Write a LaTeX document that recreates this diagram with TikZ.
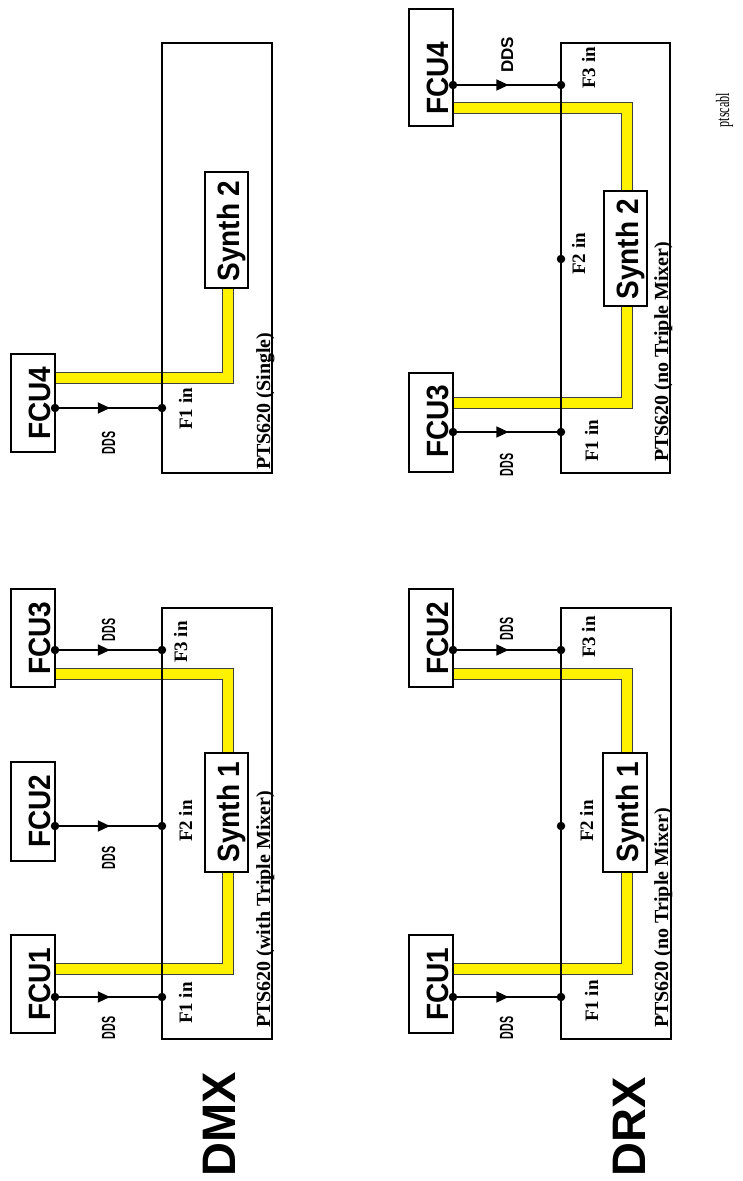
\documentclass[tikz,border=0pt]{standalone}
\usepackage{fontspec}
\usepackage{graphicx}
\setmainfont{Liberation Serif}
\newfontfamily\hvf{Liberation Sans}
\usetikzlibrary{arrows.meta,decorations.markings}
\pgfdeclarelayer{background}
\pgfsetlayers{background,main}
\newcommand\mkbox[6]{\node[#6, minimum width={(#4)-(#2)}, minimum height={(#5)-(#3)}] (#1) at ({((#2)+(#4))/2},{((#3)+(#5))/2}) {};}
\tikzset{
  ptsbox/.style={draw, line width=1.8pt, inner sep=0pt, rectangle},
  fcubox/.style={draw, fill=white, line width=1.5pt, inner sep=0pt, rectangle},
  synbox/.style={draw, fill=white, line width=1.5pt, inner sep=0pt, rectangle},
  jdot/.style={circle, fill=black, inner sep=0pt, minimum size=8.5pt},
  ddsline/.style={line width=1.2pt, postaction={decorate},
    decoration={markings, mark=at position #1 with {\arrow{Triangle[length=12pt,width=11pt]}}}},
  ddsline/.default=0.515,
  ycab/.style={draw=black!75, line width=1pt, double=yellow, double distance=10pt, line join=miter, line cap=butt},
  bigtxt/.style={font=\hvf\bfseries\fontsize{28}{30}\selectfont, rotate=90, anchor=base, inner sep=0pt},
  flab/.style={font=\bfseries\fontsize{19}{20}\selectfont, rotate=90, anchor=base, inner sep=0pt},
  ptslab/.style={font=\bfseries\fontsize{20}{22}\selectfont, rotate=90, anchor=base west, inner sep=0pt},
  ddsc/.style={font=\hvf\bfseries\fontsize{19}{19}\selectfont, rotate=90, anchor=base, inner sep=0pt},
  ddsn/.style={font=\hvf\bfseries\fontsize{17}{18}\selectfont, rotate=90, anchor=base, inner sep=0pt},
  titletxt/.style={font=\hvf\bfseries\fontsize{47}{50}\selectfont, rotate=90, anchor=base, inner sep=0pt},
  notetxt/.style={font=\fontsize{19}{20}\selectfont, rotate=90, anchor=base, inner sep=0pt},
}
\newcommand\tallt[1]{\scalebox{1}[1.1]{#1}}
\newcommand\narrowt[1]{\scalebox{0.56}[1]{#1}}
\begin{document}
\begin{tikzpicture}[x=1pt,y=-1pt]
\useasboundingbox (0,0) rectangle (742,1181);

% ================= Panel A : left top (Single) =================
\mkbox{ptsA}{162}{43}{272}{473}{ptsbox}
\mkbox{fcuA4}{11}{354}{55}{452}{fcubox}
\mkbox{synA2}{205}{172}{248}{288}{synbox}
\node[bigtxt] (tfcuA4) at (50,403) {\tallt{FCU4}};
\node[bigtxt] (tsynA2) at (239,231) {\tallt{Synth 2}};
\node[jdot] (a1s) at (55,408) {};
\node[jdot] (a1e) at (162,408) {};
\draw[ddsline] (a1s) -- (a1e);
\node[ddsc] (ddsA1) at (115,443) {\narrowt{DDS}};
\node[flab] (fA1) at (192,409) {F1 in};
\node[ptslab] (pA) at (270,470) {PTS620 (Single)};
\coordinate (yA) at (228,378);
\begin{pgfonlayer}{background}
\draw[ycab] (yA -| fcuA4.east) -- (yA) -- (yA |- synA2.south);
\end{pgfonlayer}

% ================= Panel B : DMX =================
\mkbox{ptsB}{162}{608}{272}{1039}{ptsbox}
\mkbox{fcuB3}{11}{589}{55}{687}{fcubox}
\mkbox{fcuB2}{11}{762}{55}{861}{fcubox}
\mkbox{fcuB1}{11}{935}{55}{1033}{fcubox}
\mkbox{synB1}{205}{753}{248}{872}{synbox}
\node[bigtxt] (tfcuB3) at (50,638) {\tallt{FCU3}};
\node[bigtxt] (tfcuB2) at (50,811) {\tallt{FCU2}};
\node[bigtxt] (tfcuB1) at (50,984) {\tallt{FCU1}};
\node[bigtxt] (tsynB1) at (239,812) {\tallt{Synth 1}};
\node[jdot] (b3s) at (55,650) {};
\node[jdot] (b3e) at (162,650) {};
\node[jdot] (b2s) at (55,826) {};
\node[jdot] (b2e) at (162,826) {};
\node[jdot] (b1s) at (55,997) {};
\node[jdot] (b1e) at (162,997) {};
\draw[ddsline] (b3s) -- (b3e);
\draw[ddsline] (b2s) -- (b2e);
\draw[ddsline] (b1s) -- (b1e);
\node[ddsc] (ddsB3) at (115,630) {\narrowt{DDS}};
\node[ddsc] (ddsB2) at (115,858) {\narrowt{DDS}};
\node[ddsc] (ddsB1) at (115,1028) {\narrowt{DDS}};
\node[flab] (fB3) at (187,642) {F3 in};
\node[flab] (fB2) at (192,821) {F2 in};
\node[flab] (fB1) at (192,1003) {F1 in};
\node[ptslab] (pB) at (270,1028) {PTS620 (with Triple Mixer)};
\node[titletxt] (dmx) at (235,1124) {DMX};
\coordinate (yB3) at (228,674);
\coordinate (yB1) at (228,969);
\begin{pgfonlayer}{background}
\draw[ycab] (yB3 -| fcuB3.east) -- (yB3) -- (yB3 |- synB1.north);
\draw[ycab] (yB1 -| fcuB1.east) -- (yB1) -- (yB1 |- synB1.south);
\end{pgfonlayer}

% ================= Panel C : right top =================
\mkbox{ptsC}{561}{43}{670}{473}{ptsbox}
\mkbox{fcuC4}{409}{9}{453}{126}{fcubox}
\mkbox{fcuC3}{409}{373}{453}{472}{fcubox}
\mkbox{synC2}{604}{191}{647}{306}{synbox}
\node[bigtxt] (tfcuC4) at (448,78) {\tallt{FCU4}};
\node[bigtxt] (tfcuC3) at (448,421) {\tallt{FCU3}};
\node[bigtxt] (tsynC2) at (638,249) {\tallt{Synth 2}};
\node[jdot] (c4s) at (453,85) {};
\node[jdot] (c4e) at (561,85) {};
\node[jdot] (c3s) at (453,432) {};
\node[jdot] (c3e) at (561,432) {};
\node[jdot] (c2e) at (561,259) {};
\draw[ddsline] (c4s) -- (c4e);
\draw[ddsline] (c3s) -- (c3e);
\node[ddsn] (ddsC4) at (513,55) {DDS};
\node[ddsc] (ddsC3) at (513,465) {\narrowt{DDS}};
\node[flab] (fC3) at (595,68) {F3 in};
\node[flab] (fC2) at (585,254) {F2 in};
\node[flab] (fC1) at (598,441) {F1 in};
\node[ptslab] (pC) at (668,462) {PTS620 (no Triple Mixer)};
\node[notetxt] (note) at (729,110) {\scalebox{0.64}[1]{ptscabl}};
\coordinate (yC4) at (627,108);
\coordinate (yC3) at (627,403);
\begin{pgfonlayer}{background}
\draw[ycab] (yC4 -| fcuC4.east) -- (yC4) -- (yC4 |- synC2.north);
\draw[ycab] (yC3 -| fcuC3.east) -- (yC3) -- (yC3 |- synC2.south);
\end{pgfonlayer}

% ================= Panel D : DRX =================
\mkbox{ptsD}{561}{608}{671}{1039}{ptsbox}
\mkbox{fcuD2}{409}{589}{453}{687}{fcubox}
\mkbox{fcuD1}{409}{935}{453}{1033}{fcubox}
\mkbox{synD1}{603}{753}{647}{872}{synbox}
\node[bigtxt] (tfcuD2) at (448,638) {\tallt{FCU2}};
\node[bigtxt] (tfcuD1) at (448,984) {\tallt{FCU1}};
\node[bigtxt] (tsynD1) at (638,812) {\tallt{Synth 1}};
\node[jdot] (d2s) at (453,650) {};
\node[jdot] (d2e) at (561,650) {};
\node[jdot] (d1s) at (453,997) {};
\node[jdot] (d1e) at (561,997) {};
\node[jdot] (dF2) at (561,826) {};
\draw[ddsline] (d2s) -- (d2e);
\draw[ddsline] (d1s) -- (d1e);
\node[ddsc] (ddsD2) at (513,629) {\narrowt{DDS}};
\node[ddsc] (ddsD1) at (513,1028) {\narrowt{DDS}};
\node[flab] (fD3) at (595,637) {F3 in};
\node[flab] (fD2) at (593,821) {F2 in};
\node[flab] (fD1) at (598,1001) {F1 in};
\node[ptslab] (pD) at (668,1028) {PTS620 (no Triple Mixer)};
\node[titletxt] (drx) at (645,1127) {DRX};
\coordinate (yD2) at (627,674);
\coordinate (yD1) at (627,969);
\begin{pgfonlayer}{background}
\draw[ycab] (yD2 -| fcuD2.east) -- (yD2) -- (yD2 |- synD1.north);
\draw[ycab] (yD1 -| fcuD1.east) -- (yD1) -- (yD1 |- synD1.south);
\end{pgfonlayer}
\end{tikzpicture}
\end{document}
